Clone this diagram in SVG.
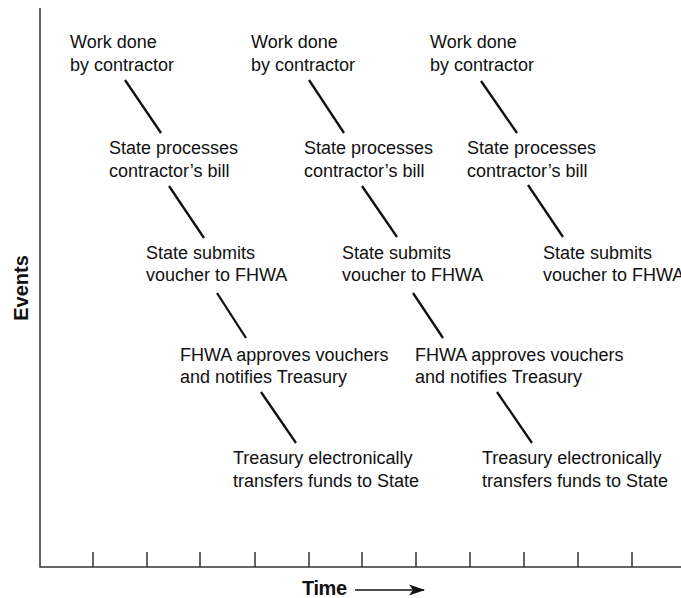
<svg xmlns="http://www.w3.org/2000/svg" width="681" height="598" viewBox="0 0 681 598">
<defs>
<style>
.t{font-family:"Liberation Sans",Arial,sans-serif;font-size:18px;fill:#111}
.b{font-family:"Liberation Sans",Arial,sans-serif;font-size:20px;font-weight:bold;fill:#111}
.ax{stroke:#333;stroke-width:1.5;fill:none}
.c{stroke:#111;stroke-width:2.3;stroke-linecap:butt}
</style>
<marker id="ah" markerWidth="16" markerHeight="12" refX="15" refY="6" orient="auto" markerUnits="userSpaceOnUse"><path d="M0,0.5 L16,6 L0,11.5 L4,6 Z" fill="#111"/></marker>
</defs>
<rect width="681" height="598" fill="#fff"/>
<g id="axes">
<path class="ax" d="M40,8 V567 H681"/>
<path class="ax" d="M93,552V567M147,552V567M200,552V567M255,552V567M309,552V567M362,552V567M416,552V567M470,552V567M524,552V567M578,552V567M632,552V567"/>
<text class="b" transform="translate(28,288) rotate(-90)" text-anchor="middle">Events</text>
<text class="b" x="302" y="595" textLength="45">Time</text>
<line x1="355" y1="590" x2="424" y2="590" stroke="#111" stroke-width="1.5" marker-end="url(#ah)"/>
</g>
<g id="connectors">
<line class="c" x1="125" y1="80" x2="161" y2="133"/>
<line class="c" x1="169" y1="186" x2="204" y2="238"/>
<line class="c" x1="217" y1="293" x2="246" y2="338"/>
<line class="c" x1="261" y1="392" x2="296" y2="443"/>
<line class="c" x1="309" y1="80" x2="344" y2="133"/>
<line class="c" x1="362" y1="186" x2="397" y2="237"/>
<line class="c" x1="413" y1="293" x2="443" y2="338"/>
<line class="c" x1="497" y1="392" x2="532" y2="443"/>
<line class="c" x1="481" y1="81" x2="517" y2="133"/>
<line class="c" x1="528" y1="185" x2="563" y2="237"/>
</g>
<g id="n1a"><text class="t" x="70" y="48">Work done</text><text class="t" x="70" y="71">by contractor</text></g>
<g id="n1b"><text class="t" x="109" y="154">State processes</text><text class="t" x="109" y="177">contractor’s bill</text></g>
<g id="n1c"><text class="t" x="146" y="259">State submits</text><text class="t" x="146" y="281">voucher to FHWA</text></g>
<g id="n1d"><text class="t" x="180" y="361">FHWA approves vouchers</text><text class="t" x="180" y="383">and notifies Treasury</text></g>
<g id="n1e"><text class="t" x="233" y="464">Treasury electronically</text><text class="t" x="233" y="487">transfers funds to State</text></g>
<g id="n2a"><text class="t" x="251" y="48">Work done</text><text class="t" x="251" y="71">by contractor</text></g>
<g id="n2b"><text class="t" x="304" y="154">State processes</text><text class="t" x="304" y="177">contractor’s bill</text></g>
<g id="n2c"><text class="t" x="342" y="259">State submits</text><text class="t" x="342" y="281">voucher to FHWA</text></g>
<g id="n2d"><text class="t" x="415" y="361">FHWA approves vouchers</text><text class="t" x="415" y="383">and notifies Treasury</text></g>
<g id="n2e"><text class="t" x="482" y="464">Treasury electronically</text><text class="t" x="482" y="487">transfers funds to State</text></g>
<g id="n3a"><text class="t" x="430" y="48">Work done</text><text class="t" x="430" y="71">by contractor</text></g>
<g id="n3b"><text class="t" x="467" y="154">State processes</text><text class="t" x="467" y="177">contractor’s bill</text></g>
<g id="n3c"><text class="t" x="543" y="259">State submits</text><text class="t" x="543" y="281">voucher to FHWA</text></g>
</svg>
